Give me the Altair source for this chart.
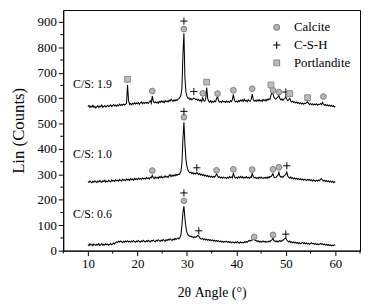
import altair as alt
import pandas as pd

# ---- XRD traces: 2θ from 10° to 60°, step 0.2° ----
angle_start = 10.0
angle_step = 0.2

cs19 = [566, 571, 563, 569, 565, 572, 564, 568, 561, 567,
        570, 564, 569, 566, 573, 563, 568, 571, 565, 569,
        572, 566, 570, 574, 567, 571, 575, 569, 573, 568,
        574, 570, 576, 571, 575, 572, 577, 573, 576, 580,
        652, 592, 576, 579, 574, 580, 576, 582, 577, 581,
        578, 583, 576, 581, 585, 578, 583, 579, 584, 580,
        583, 579, 585, 590, 580, 608, 588, 582, 586, 581,
        585, 580, 587, 583, 589, 584, 588, 582, 590, 586,
        589, 585, 592, 588, 596, 591, 587, 593, 589, 594,
        590, 596, 598, 604, 612, 640, 770, 855, 680, 625,
        608, 600, 601, 594, 599, 593, 597, 600, 598, 594,
        596, 591, 595, 589, 593, 586, 601, 591, 588, 595,
        642, 600, 588, 584, 590, 583, 588, 584, 589, 586,
        598, 606, 590, 584, 588, 583, 590, 585, 587, 583,
        589, 584, 587, 583, 590, 586, 594, 615, 592, 585,
        589, 584, 590, 586, 592, 588, 594, 587, 596, 589,
        592, 586, 594, 589, 588, 595, 616, 596, 588, 592,
        587, 593, 588, 594, 589, 592, 587, 595, 590, 594,
        589, 596, 592, 598, 595, 612, 623, 617, 603, 598,
        596, 601, 604, 611, 598, 593, 597, 591, 596, 598,
        606, 596, 590, 594, 599, 588, 584, 588, 583, 586,
        581, 585, 579, 583, 578, 582, 577, 581, 576, 580,
        578, 582, 586, 579, 575, 579, 574, 578, 573, 577,
        574, 578, 572, 576, 575, 579, 574, 583, 576, 572,
        575, 570, 574, 569, 573, 568, 572, 567, 570, 566,
        568]

cs10 = [272, 268, 274, 270, 267, 273, 269, 275, 271, 268,
        274, 270, 276, 271, 269, 275, 272, 277, 270, 274,
        271, 277, 273, 270, 278, 274, 276, 272, 279, 275,
        277, 273, 280, 276, 274, 281, 277, 279, 275, 282,
        278, 281, 276, 283, 279, 282, 277, 284, 280, 283,
        279, 285, 281, 284, 280, 286, 282, 285, 281, 288,
        283, 287, 282, 289, 286, 296, 287, 283, 290, 285,
        289, 284, 291, 287, 293, 286, 290, 288, 294, 289,
        292, 288, 295, 299, 291, 297, 293, 298, 294, 300,
        296, 301, 299, 304, 312, 345, 440, 505, 420, 360,
        332, 318, 311, 306, 309, 303, 307, 301, 305, 302,
        308, 303, 299, 304, 297, 301, 295, 299, 294, 297,
        292, 296, 290, 294, 289, 293, 288, 292, 289, 294,
        303, 294, 288, 291, 286, 290, 285, 289, 286, 288,
        284, 289, 285, 291, 287, 290, 286, 306, 292, 286,
        289, 284, 290, 286, 292, 287, 291, 285, 289, 286,
        291, 286, 289, 284, 290, 287, 304, 293, 286, 289,
        284, 288, 283, 289, 285, 290, 286, 284, 288, 285,
        289, 284, 290, 286, 292, 291, 296, 303, 290, 287,
        288, 293, 296, 308, 294, 289, 292, 288, 294, 296,
        300, 309, 293, 288, 285, 290, 284, 287, 282, 286,
        281, 285, 280, 284, 279, 283, 278, 282, 277, 281,
        279, 276, 281, 277, 280, 275, 279, 274, 278, 276,
        273, 277, 274, 278, 275, 280, 283, 278, 274, 277,
        272, 276, 271, 275, 270, 274, 269, 273, 268, 271,
        268]

cs06 = [24, 20, 27, 22, 25, 19, 26, 23, 21, 25,
        22, 27, 20, 24, 28, 21, 25, 22, 27, 23,
        26, 21, 25, 28, 23, 27, 30, 26, 32, 35,
        33, 37, 34, 38, 35, 32, 37, 34, 38, 35,
        39, 34, 37, 33, 38, 35, 40, 36, 33, 38,
        35, 40, 36, 33, 39, 35, 41, 37, 34, 39,
        36, 41, 37, 34, 40, 38, 42, 37, 35, 41,
        38, 43, 39, 36, 42, 38, 44, 40, 37, 43,
        40, 45, 41, 47, 43, 40, 46, 42, 48, 44,
        47, 50, 46, 52, 62, 100, 150, 175, 128, 92,
        72, 63, 59, 56, 58, 53, 55, 51, 54, 52,
        56, 60, 57, 50, 47, 45, 48, 43, 46, 42,
        45, 41, 44, 40, 43, 39, 42, 38, 41, 37,
        40, 36, 39, 35, 38, 34, 37, 33, 36, 34,
        37, 33, 36, 32, 35, 31, 34, 33, 30, 34,
        31, 35, 32, 29, 34, 31, 33, 30, 35, 32,
        36, 33, 37, 40, 38, 42, 41, 44, 46, 40,
        40, 36, 39, 34, 37, 33, 36, 38, 34, 37,
        33, 36, 34, 38, 35, 40, 42, 49, 38, 39,
        35, 38, 34, 37, 40, 36, 39, 41, 44, 47,
        50, 42, 37, 34, 38, 32, 35, 31, 34, 30,
        33, 29, 32, 28, 31, 27, 30, 32, 28, 31,
        27, 30, 26, 29, 25, 28, 31, 27, 29, 25,
        28, 24, 27, 23, 26, 29, 25, 27, 23, 26,
        22, 25, 21, 24, 20, 23, 19, 22, 20, 23,
        21]

series_names = ["C/S: 1.9", "C/S: 1.0", "C/S: 0.6"]
series_label_angle = [7.0, 7.0, 7.0]
series_label_counts = [655, 380, 143]

# ---- axis ticks ----
x_major = [10, 20, 30, 40, 50, 60]
x_minor = [5, 15, 25, 35, 45, 55, 65]
y_major = [0, 100, 200, 300, 400, 500, 600, 700, 800, 900]
y_minor = [50, 150, 250, 350, 450, 550, 650, 750, 850]

# ---- phase markers ----
phases = ["Calcite", "C-S-H", "Portlandite"]
calcite_angle = [23.0, 29.4, 33.2, 36.2, 39.4, 43.2, 47.4, 48.6, 57.6,
                 23.0, 29.4, 36.0, 39.4, 43.2, 47.4, 48.6,
                 29.4, 43.6, 47.4]
calcite_counts = [628, 872, 619, 618, 631, 637, 631, 624, 606,
                  315, 525, 316, 320, 319, 320, 328,
                  196, 54, 62]
csh_angle = [29.4, 31.4, 50.0, 29.4, 32.0, 50.2, 29.4, 32.4, 50.0]
csh_counts = [903, 626, 624, 548, 326, 334, 227, 78, 65]
port_angle = [18.0, 34.0, 47.0, 50.8, 54.4]
port_counts = [674, 663, 652, 618, 602]

# ---- build tables ----
rows = []
for name, vals in zip(series_names, [cs19, cs10, cs06]):
    for i, v in enumerate(vals):
        rows.append({"angle": round(angle_start + angle_step * i, 1), "counts": v, "series": name})
lines_df = pd.DataFrame(rows)

mk = []
for ph, xs, ys in zip(phases, [calcite_angle, csh_angle, port_angle],
                      [calcite_counts, csh_counts, port_counts]):
    for a, c in zip(xs, ys):
        mk.append({"angle": a, "counts": c, "phase": ph})
marks_df = pd.DataFrame(mk)

labels_df = pd.DataFrame({"angle": series_label_angle, "counts": series_label_counts,
                          "text": series_names})
xminor_df = pd.DataFrame({"angle": x_minor})
yminor_df = pd.DataFrame({"counts": y_minor})

FONT = "Liberation Serif, Times New Roman, serif"
W, H = 301, 244

xscale = alt.Scale(domain=[5, 65], nice=False, zero=False)
yscale = alt.Scale(domain=[0, 946.6], nice=False, zero=False)

xaxis = alt.Axis(values=x_major, tickSize=5, labelOverlap=False, labelFlush=False,
                 title="2θ Angle (°)", titleFontSize=14, titlePadding=15,
                 labelPadding=2, labelFont=FONT, titleFont=FONT, labelFontSize=13)
yaxis = alt.Axis(values=y_major, tickSize=5, labelOverlap=False, labelFlush=False,
                 title="Lin (Counts)", titleFontSize=17, titlePadding=10,
                 labelPadding=2, labelFont=FONT, titleFont=FONT, labelFontSize=13)

X = alt.X("angle:Q", scale=xscale, axis=xaxis)
Y = alt.Y("counts:Q", scale=yscale, axis=yaxis)

lines = alt.Chart(lines_df).mark_line(color="black", strokeWidth=1.05).encode(
    x=X, y=Y, detail="series:N",
)

xminor = alt.Chart(xminor_df).mark_rule(color="black", strokeWidth=1, clip=False).encode(
    x=X, y=alt.value(H), y2=alt.value(H + 3)
)
yminor = alt.Chart(yminor_df).mark_rule(color="black", strokeWidth=1, clip=False).encode(
    y=Y, x=alt.value(0), x2=alt.value(-3)
)

points = alt.Chart(marks_df).mark_point(size=34, opacity=1, strokeWidth=1).encode(
    x=X,
    y=Y,
    shape=alt.Shape("phase:N",
                    scale=alt.Scale(domain=phases,
                                    range=["circle", "M-1.25,0H1.25M0,-1.25V1.25", "square"]),
                    legend=alt.Legend(title=None, orient="none", legendX=210, legendY=11,
                                      labelFont=FONT, labelFontSize=13, labelColor="black",
                                      symbolSize=34, symbolStrokeWidth=1.1, rowPadding=4,
                                      labelOffset=11, padding=0)),
    fill=alt.Fill("phase:N",
                  scale=alt.Scale(domain=phases, range=["#b5b5b5", "transparent", "#bcbcbc"])),
    stroke=alt.Stroke("phase:N",
                      scale=alt.Scale(domain=phases, range=["#808080", "#000000", "#8c8c8c"])),
)

texts = alt.Chart(labels_df).mark_text(align="left", baseline="middle", font=FONT,
                                       fontSize=12, color="black").encode(
    x=X, y=Y, text="text:N"
)

chart = alt.layer(lines, xminor, yminor, points, texts).properties(
    width=W, height=H,
    autosize=alt.AutoSizeParams(type="none"),
    padding={"left": 56, "top": 0, "right": 2, "bottom": 50},
).configure(font=FONT).configure_view(stroke="black", strokeWidth=1).configure_axis(
    grid=False, domainColor="black", tickColor="black", labelColor="black",
    titleColor="black", labelFont=FONT, titleFont=FONT, labelFontSize=13,
    titleFontWeight="normal", domainWidth=1, tickWidth=1,
).configure_legend(labelFont=FONT)

chart.save("out.html", embed_options={"renderer": "svg", "actions": False})
